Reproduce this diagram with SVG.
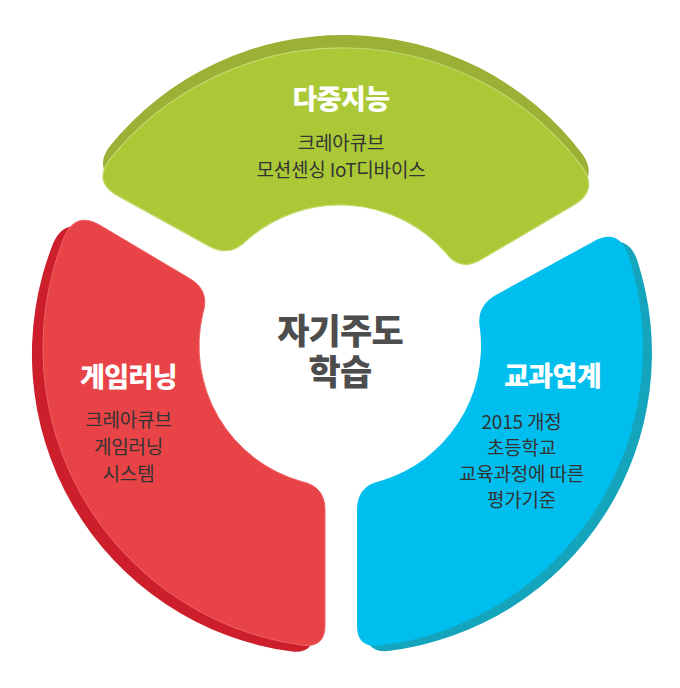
<svg xmlns="http://www.w3.org/2000/svg" xmlns:xlink="http://www.w3.org/1999/xlink" width="680" height="688" viewBox="0 0 680 688">
  <style>
    .title { font-family: "Noto Sans CJK KR", "Noto Sans", sans-serif; font-weight: 900; font-size: 27px; fill: #ffffff; text-anchor: middle; letter-spacing: -0.6px; }
    .body { font-family: "Noto Sans CJK KR", "Noto Sans", sans-serif; font-weight: 400; font-size: 19px; fill: #333333; text-anchor: middle; letter-spacing: -0.2px; }
    .center { font-family: "Noto Sans CJK KR", "Noto Sans", sans-serif; font-weight: 900; font-size: 35px; fill: #4d4d4d; text-anchor: middle; letter-spacing: -0.8px; }
  </style>
  <defs>
    <path id="pGreen" d="M117.5,195.6 Q93,182.1 109.6,159.5 A300,300 0 0 1 582.5,167.3 Q598.3,190.5 574.2,204.7 L480.7,259.8 Q460,272 445.8,252.7 A141,141 0 0 0 246.6,240.4 Q230,257.7 209,246.1 Z"/>
    <path id="pRed" d="M100.1,225.3 L189.7,278.5 Q210.3,290.7 202.8,313.5 A141,141 0 0 0 301.5,481.6 Q325,486.2 325,510.2 L325,625.5 Q325,647.5 303.1,645.3 A300,300 0 0 1 64.4,236.5 Q76,211 100.1,225.3 Z"/>
    <path id="pBlue" d="M496.3,294.8 L593.5,241.4 Q618,227.9 627.9,254.1 A300,300 0 0 1 378.9,645.8 Q357,647.7 357,625.7 L357,510 Q357,486 380.4,481.1 A141,141 0 0 0 480.1,329.8 Q475.3,306.3 496.3,294.8 Z"/>
  </defs>
  <rect width="680" height="688" fill="#ffffff"/>

  <g id="node-green">
    <use xlink:href="#pGreen" href="#pGreen" transform="translate(0,-13)" fill="#9bb034"/>
    <use xlink:href="#pGreen" href="#pGreen" fill="#abc937" stroke="#c3da6c" stroke-width="1.2"/>
    <text class="title" x="341" y="109">다중지능</text>
    <text class="body" x="341" y="150">크레아큐브</text>
    <text class="body" x="341" y="177">모션센싱 IoT디바이스</text>
  </g>

  <g id="node-red">
    <use xlink:href="#pRed" href="#pRed" transform="translate(-11,6.3)" fill="#cc1e2b"/>
    <use xlink:href="#pRed" href="#pRed" fill="#e84346" stroke="#ee6266" stroke-width="1"/>
    <text class="title" x="128.5" y="387">게임러닝</text>
    <text class="body" x="128.5" y="427">크레아큐브</text>
    <text class="body" x="128.5" y="454">게임러닝</text>
    <text class="body" x="128.5" y="481">시스템</text>
  </g>

  <g id="node-blue">
    <use xlink:href="#pBlue" href="#pBlue" transform="translate(9,5.2)" fill="#14a5bd"/>
    <use xlink:href="#pBlue" href="#pBlue" fill="#00bfee"/>
    <text class="title" x="552.5" y="386">교과연계</text>
    <text class="body" x="521.5" y="429">2015 개정</text>
    <text class="body" x="521.5" y="455">초등학교</text>
    <text class="body" x="521.5" y="481">교육과정에 따른</text>
    <text class="body" x="521.5" y="507">평가기준</text>
  </g>

  <g id="node-center">
    <text class="center" x="340" y="344"><tspan x="340" y="344">자기주도</tspan><tspan x="340" y="385">학습</tspan></text>
  </g>

  <g id="connectors"></g>
</svg>
